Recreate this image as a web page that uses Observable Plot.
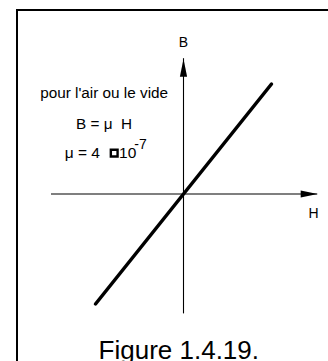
<!DOCTYPE html>
<html>
<head>
<meta charset="utf-8">
<script src="https://cdn.jsdelivr.net/npm/d3@7"></script>
<script src="https://cdn.jsdelivr.net/npm/@observablehq/plot@0.6"></script>
<style>
  html, body { margin: 0; padding: 0; background: white; overflow: hidden; }
  #wrap { position: relative; width: 328px; height: 361px; overflow: hidden; }
  #frame { position: absolute; left: 16px; top: 9px; width: 400px; height: 400px;
           border-left: 2px solid #000; border-top: 2px solid #000; box-sizing: border-box; }
  #chart { position: absolute; left: 0; top: 0; }
</style>
</head>
<body>
<div id="wrap"><div id="frame"></div><div id="chart"></div></div>
<script>
// Axis extents (abstract units)
const axisHExtent = [-6, 6.1];
const axisBExtent = [-5.45, 6.15];
// B = mu0 H line endpoints
const lineH = [-4, 4];
const lineB = [-5, 5];
// Axis labels
const axisLabels = ["B", "H"];
const axisLabelX = [0, 5.91];
const axisLabelY = [6.89, -0.89];
// Annotation lines
const noteText = ["pour l'air ou le vide", "B = \u03bc\u00a0\u00a0H"];
const noteX = [-3.61, -3.61];
const noteY = [4.59, 3.18];
const muParts = ["\u03bc = 4", "10"];
const muPartX = [-5.4, -2.93];
const muPartY = [1.84, 1.84];
const expText = ["-7"];
const expX = [-2.24];
const expY = [2.08];
const boxX = [-3.15];
const boxY = [1.86];
const caption = ["Figure 1.4.19."];
const captionX = [-3.86];
const captionY = [-7.1];

const arrowRight = { draw(ctx) { ctx.moveTo(0, 0); ctx.lineTo(-17, -3.6); ctx.lineTo(-17, 3.6); ctx.closePath(); } };
const arrowUp = { draw(ctx) { ctx.moveTo(0, 0); ctx.lineTo(-3.6, 18); ctx.lineTo(3.6, 18); ctx.closePath(); } };

const font = "'Liberation Sans', Arial, Helvetica, sans-serif";

const chart = Plot.plot({
  width: 328,
  height: 361,
  margin: 0,
  x: { type: "linear", domain: [-6, 6], range: [51, 315], axis: null },
  y: { type: "linear", domain: [-6, 6], range: [325.5, 61.5], axis: null },
  style: { fontFamily: font, background: "transparent", color: "black" },
  marks: [
    Plot.ruleY([0], { x1: axisHExtent[0], x2: axisHExtent[1], stroke: "black", strokeWidth: 1.1 }),
    Plot.ruleX([0], { y1: axisBExtent[0], y2: axisBExtent[1], stroke: "black", strokeWidth: 1.1 }),
    Plot.dot([0], { x: axisHExtent[1], y: 0, symbol: arrowRight, fill: "black", stroke: "none", r: 1 }),
    Plot.dot([0], { x: 0, y: axisBExtent[1], symbol: arrowUp, fill: "black", stroke: "none", r: 1 }),
    Plot.line(lineH.map((h, i) => ({ H: h, B: lineB[i] })), { x: "H", y: "B", stroke: "black", strokeWidth: 3.5 }),
    Plot.text(axisLabels, { x: (d, i) => axisLabelX[i], y: (d, i) => axisLabelY[i], text: d => d, fontSize: 14, fill: "black" }),
    Plot.text(noteText, { x: (d, i) => noteX[i], y: (d, i) => noteY[i], text: d => d, fontSize: 15.3, fill: "black" }),
    Plot.text(muParts, { x: (d, i) => muPartX[i], y: (d, i) => muPartY[i], text: d => d, fontSize: 15.5, textAnchor: "start", fill: "black" }),
    Plot.text(expText, { x: (d, i) => expX[i], y: (d, i) => expY[i], text: d => d, fontSize: 14, textAnchor: "start", fill: "black", dy: -4 }),
    Plot.dot(boxX, { x: d => d, y: (d, i) => boxY[i], symbol: "square", r: 3.8, fill: "white", stroke: "black", strokeWidth: 2.4 }),
    Plot.text(caption, { x: (d, i) => captionX[i], y: (d, i) => captionY[i], text: d => d, fontSize: 26, textAnchor: "start", fill: "black" })
  ]
});
document.getElementById("chart").appendChild(chart);
</script>
</body>
</html>
